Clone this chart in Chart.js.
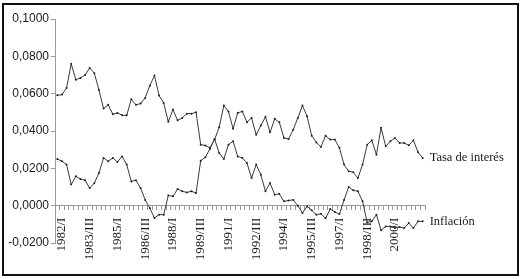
<!DOCTYPE html>
<html>
<head>
<meta charset="utf-8">
<script src="https://cdn.jsdelivr.net/npm/chart.js@4.4.1/dist/chart.umd.min.js"></script>
<style>
  html, body { margin: 0; padding: 0; background: #fff; }
  #wrap { position: relative; width: 522px; height: 279px; background: #fff; }
  #frame { position: absolute; left: 2px; top: 3px; width: 517px; height: 273px; border: 2.5px solid #111; box-sizing: border-box; pointer-events: none; }
  canvas { position: absolute; left: 0; top: 0; }
</style>
</head>
<body>
<div id="wrap">
  <canvas id="c" width="522" height="279"></canvas>
  <div id="frame"></div>
</div>
<script>
// ---- data ----
// quarterly categories, 1981/IV ... 2001/III
const years = [1981,1982,1983,1984,1985,1986,1987,1988,1989,1990,1991,1992,1993,1994,1995,1996,1997,1998,1999,2000,2001];
const quarters = ['I','II','III','IV'];
const categories = [];
years.forEach(y => quarters.forEach(q => categories.push(y + '/' + q)));
categories.splice(0, 3);          // start at 1981/IV
categories.splice(80);            // 80 quarters

// axis labels that are printed
const tickLabels = ['1982/I','1983/III','1985/I','1986/III','1988/I','1989/III','1991/I',
                    '1992/III','1994/I','1995/III','1997/I','1998/III','2000/I'];

const seriesNames = ['Tasa de interés', 'Inflación'];

const tasaInteres = [
  0.0591,0.0595,0.0630,0.0760,0.0675,0.0684,0.0700,0.0738,0.0710,0.0620,
  0.0520,0.0540,0.0490,0.0497,0.0484,0.0484,0.0570,0.0540,0.0547,0.0577,
  0.0643,0.0697,0.0590,0.0550,0.0449,0.0515,0.0457,0.0470,0.0493,0.0493,
  0.0500,0.0327,0.0322,0.0310,0.0354,0.0420,0.0536,0.0505,0.0412,0.0497,
  0.0505,0.0447,0.0470,0.0380,0.0429,0.0476,0.0393,0.0465,0.0447,0.0363,
  0.0357,0.0407,0.0470,0.0536,0.0479,0.0375,0.0339,0.0314,0.0375,0.0354,
  0.0354,0.0310,0.0220,0.0184,0.0179,0.0148,0.0220,0.0327,0.0350,0.0273,
  0.0417,0.0318,0.0345,0.0363,0.0336,0.0336,0.0323,0.0350,0.0286,0.0255
];

const inflacion = [
  0.0250,0.0238,0.0220,0.0113,0.0157,0.0143,0.0136,0.0094,0.0121,0.0175,
  0.0256,0.0238,0.0256,0.0234,0.0264,0.0220,0.0130,0.0136,0.0094,0.0031,
  -0.0013,-0.0066,-0.0048,-0.0048,0.0055,0.0050,0.0089,0.0077,0.0071,0.0077,
  0.0068,0.0241,0.0259,0.0304,0.0357,0.0282,0.0250,0.0327,0.0345,0.0264,
  0.0256,0.0229,0.0148,0.0220,0.0166,0.0077,0.0121,0.0059,0.0063,0.0023,
  0.0028,0.0031,0.0000,-0.0039,-0.0004,-0.0025,-0.0048,-0.0043,-0.0068,-0.0018,
  -0.0034,-0.0045,0.0031,0.0100,0.0082,0.0077,0.0023,-0.0090,-0.0084,-0.0048,
  -0.0132,-0.0111,-0.0111,-0.0120,-0.0114,-0.0120,-0.0093,-0.0120,-0.0084,-0.0084
];

const yTicks = [-0.02, 0, 0.02, 0.04, 0.06, 0.08, 0.10];

// ---- chart ----
const SERIF = '"Liberation Serif", "Times New Roman", serif';
const SANS = '"Liberation Sans", Arial, sans-serif';
const lineColor = '#3a3a3a';
const axisColor = '#9a9a9a';

const endLabels = {
  id: 'endLabels',
  afterDatasetsDraw(chart) {
    const ctx = chart.ctx;
    ctx.save();
    ctx.font = '12.5px ' + SERIF;
    ctx.fillStyle = '#1a1a1a';
    ctx.textAlign = 'left';
    ctx.textBaseline = 'middle';
    chart.data.datasets.forEach((ds, i) => {
      const meta = chart.getDatasetMeta(i);
      const pt = meta.data[meta.data.length - 1];
      ctx.fillText(ds.label, pt.x + 7, pt.y);
    });
    ctx.restore();
  }
};

new Chart(document.getElementById('c'), {
  type: 'line',
  data: {
    labels: categories,
    datasets: [
      { label: seriesNames[0], data: tasaInteres },
      { label: seriesNames[1], data: inflacion }
    ].map(d => Object.assign(d, {
      borderColor: lineColor,
      borderWidth: 1,
      pointRadius: 1,
      pointBackgroundColor: '#222',
      pointBorderWidth: 0,
      tension: 0,
      fill: false
    }))
  },
  options: {
    responsive: false,
    animation: false,
    devicePixelRatio: 1,
    layout: { padding: { left: 0, top: 19, right: 97, bottom: 36 } },
    plugins: { legend: { display: false }, tooltip: { enabled: false } },
    scales: {
      x: {
        position: { y: 0 },
        offset: true,
        grid: { display: true, offset: true, drawOnChartArea: false, drawTicks: true, tickLength: 4, color: axisColor },
        border: { display: true, color: axisColor, width: 1 },
        ticks: {
          autoSkip: false,
          minRotation: 90,
          maxRotation: 90,
          padding: 8,
          color: '#1a1a1a',
          font: { family: SERIF, size: 13 },
          callback: (v, i) => (tickLabels.includes(categories[i]) ? categories[i] : '')
        }
      },
      y: {
        min: yTicks[0],
        max: yTicks[yTicks.length - 1],
        afterFit: s => { s.width = 55; },
        afterBuildTicks: s => { s.ticks = yTicks.map(v => ({ value: v })); },
        grid: { display: true, drawOnChartArea: false, drawTicks: true, tickLength: 4, color: axisColor },
        border: { display: true, color: axisColor, width: 1 },
        ticks: {
          padding: 2,
          color: '#1a1a1a',
          font: { family: SANS, size: 12 },
          callback: v => v.toFixed(4).replace('.', ',')
        }
      }
    }
  },
  plugins: [endLabels]
});
</script>
</body>
</html>
